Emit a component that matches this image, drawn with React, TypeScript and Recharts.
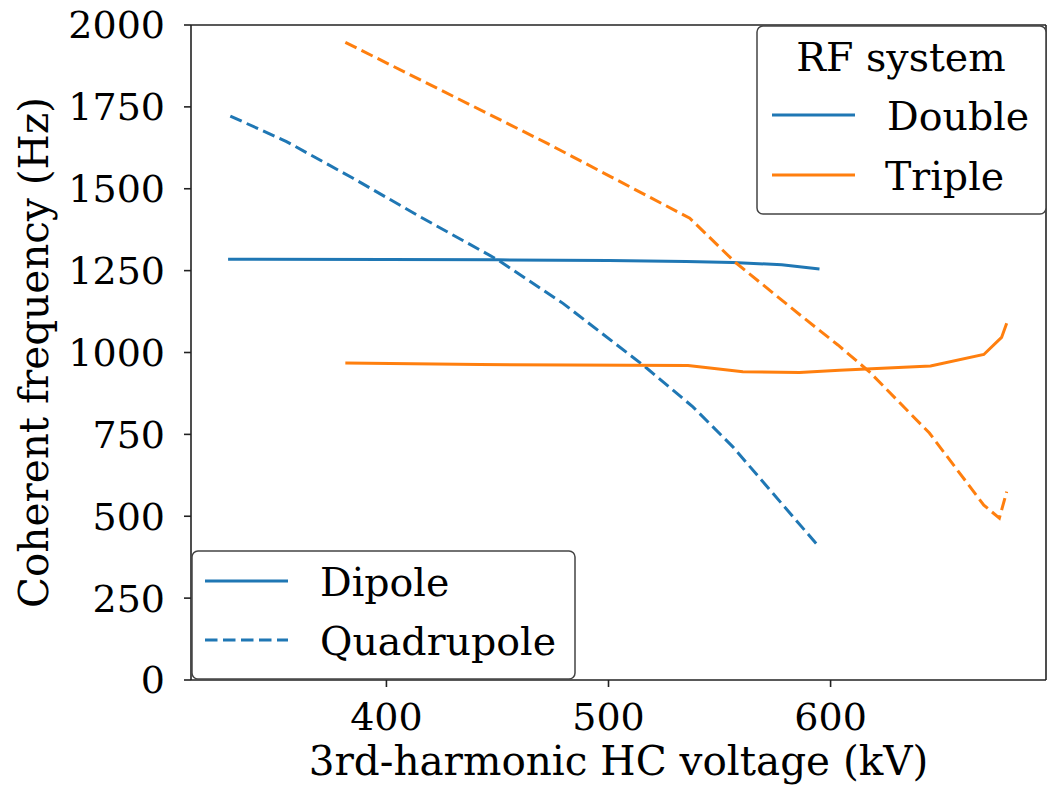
import { LineChart, Line, XAxis, YAxis, ReferenceLine } from 'recharts';

// Dipole mode, double RF system
const dipoleDoubleV = [328.7, 400, 450, 500, 535, 556, 578, 595];
const dipoleDoubleF = [1285, 1284, 1283, 1281, 1278, 1275, 1268, 1255];

// Quadrupole mode, double RF system
const quadDoubleV = [329.7, 355, 385, 415, 449.6, 479.5, 515.5, 538, 556, 574, 595];
const quadDoubleF = [1722, 1644, 1532, 1415, 1285, 1150, 962, 834, 712, 570, 405];

// Dipole mode, triple RF system
const dipoleTripleV = [381.5, 442, 535.8, 560.5, 586, 604, 645, 669, 677, 679.3];
const dipoleTripleF = [968, 963, 960, 941, 939, 946, 959, 994, 1046, 1089];

// Quadrupole mode, triple RF system
const quadTripleV = [381.5, 472, 536.6, 556.8, 586, 603.3, 617.5, 644.5, 669, 676, 679.3];
const quadTripleF = [1947, 1640, 1410, 1277, 1116, 1023, 941, 754, 534, 494, 575];

const xTicks = [400, 500, 600];
const yTicks = [0, 250, 500, 750, 1000, 1250, 1500, 1750, 2000];

const BLUE = '#1f77b4';
const ORANGE = '#ff7f0e';
const FONT = 'DejaVu Serif';
const DASH = '12.5 5.5';
const LW = 3;

const toPoints = (xs: number[], ys: number[]) => xs.map((x, i) => ({ x, y: ys[i] }));

const series = [
    { name: 'dipole-double', data: toPoints(dipoleDoubleV, dipoleDoubleF), color: BLUE, dash: undefined },
    { name: 'quad-double', data: toPoints(quadDoubleV, quadDoubleF), color: BLUE, dash: DASH },
    { name: 'dipole-triple', data: toPoints(dipoleTripleV, dipoleTripleF), color: ORANGE, dash: undefined },
    { name: 'quad-triple', data: toPoints(quadTripleV, quadTripleF), color: ORANGE, dash: DASH },
];

const tickStyle = { fontFamily: FONT, fontSize: 38, fill: '#000' };
const labelStyle = { fontFamily: FONT, fontSize: 40.5, fill: '#000' };
const legendStyle = { fontFamily: FONT, fontSize: 39.5, fill: '#000' };

const LegendRow = ({ y, color, dash, label, x1, x2, tx }: any) => (
    <g>
        <line x1={x1} x2={x2} y1={y} y2={y} stroke={color} strokeWidth={LW} strokeDasharray={dash} />
        <text x={tx} y={y + 15} {...legendStyle}>{label}</text>
    </g>
);

const App = () => {
    return (
        <div style={{ position: 'absolute', left: 0, top: 0, width: 1050, height: 786, background: '#fff' }}>
            <LineChart width={1050} height={786} margin={{ top: 25, right: 4, left: 0, bottom: 0 }}>
                <XAxis
                    type="number"
                    dataKey="x"
                    domain={[312, 697]}
                    ticks={xTicks}
                    allowDataOverflow
                    height={106}
                    tickSize={7}
                    tickMargin={16}
                    stroke="#222"
                    strokeWidth={1.6}
                    tick={tickStyle}
                    label={{
                        content: ({ viewBox }: any) => (
                            <text x={viewBox.x + viewBox.width / 2} y={775} textAnchor="middle" {...labelStyle}>
                                3rd-harmonic HC voltage (kV)
                            </text>
                        ),
                    }}
                />
                <YAxis
                    type="number"
                    dataKey="y"
                    domain={[0, 2000]}
                    ticks={yTicks}
                    width={191}
                    tickSize={7}
                    tickMargin={19}
                    stroke="#222"
                    strokeWidth={1.6}
                    tick={tickStyle}
                    label={{
                        content: ({ viewBox }: any) => {
                            const cx = 34;
                            const cy = viewBox.y + viewBox.height / 2;
                            return (
                                <text
                                    x={cx}
                                    y={cy}
                                    transform={`rotate(-90 ${cx} ${cy})`}
                                    textAnchor="middle"
                                    dominantBaseline="central"
                                    {...labelStyle}
                                >
                                    Coherent frequency (Hz)
                                </text>
                            );
                        },
                    }}
                />
                <ReferenceLine y={2000} stroke="#222" strokeWidth={1.6} />
                <ReferenceLine x={697} stroke="#222" strokeWidth={1.6} />
                {series.map((s) => (
                    <Line
                        key={s.name}
                        data={s.data}
                        dataKey="y"
                        type="linear"
                        stroke={s.color}
                        strokeWidth={LW}
                        strokeDasharray={s.dash}
                        dot={false}
                        activeDot={false}
                        isAnimationActive={false}
                    />
                ))}
            </LineChart>
            <svg width={1050} height={786} style={{ position: 'absolute', left: 0, top: 0, pointerEvents: 'none' }}>
                {/* mode legend, lower left */}
                <rect x={192} y={551} width={383} height={128} rx={6} fill="#fff" fillOpacity={0.8} stroke="#444" strokeWidth={1.5} />
                <LegendRow y={581} color={BLUE} label="Dipole" x1={205} x2={288} tx={320} />
                <LegendRow y={640} color={BLUE} dash={DASH} label="Quadrupole" x1={205} x2={288} tx={320} />
                {/* RF system legend, upper right */}
                <rect x={757} y={26} width={289} height={188} rx={6} fill="#fff" fillOpacity={0.8} stroke="#444" strokeWidth={1.5} />
                <text x={901} y={71} textAnchor="middle" {...legendStyle}>RF system</text>
                <LegendRow y={115} color={BLUE} label="Double" x1={772} x2={855} tx={887} />
                <LegendRow y={175} color={ORANGE} label="Triple" x1={772} x2={855} tx={885} />
            </svg>
        </div>
    );
};

export default App;
